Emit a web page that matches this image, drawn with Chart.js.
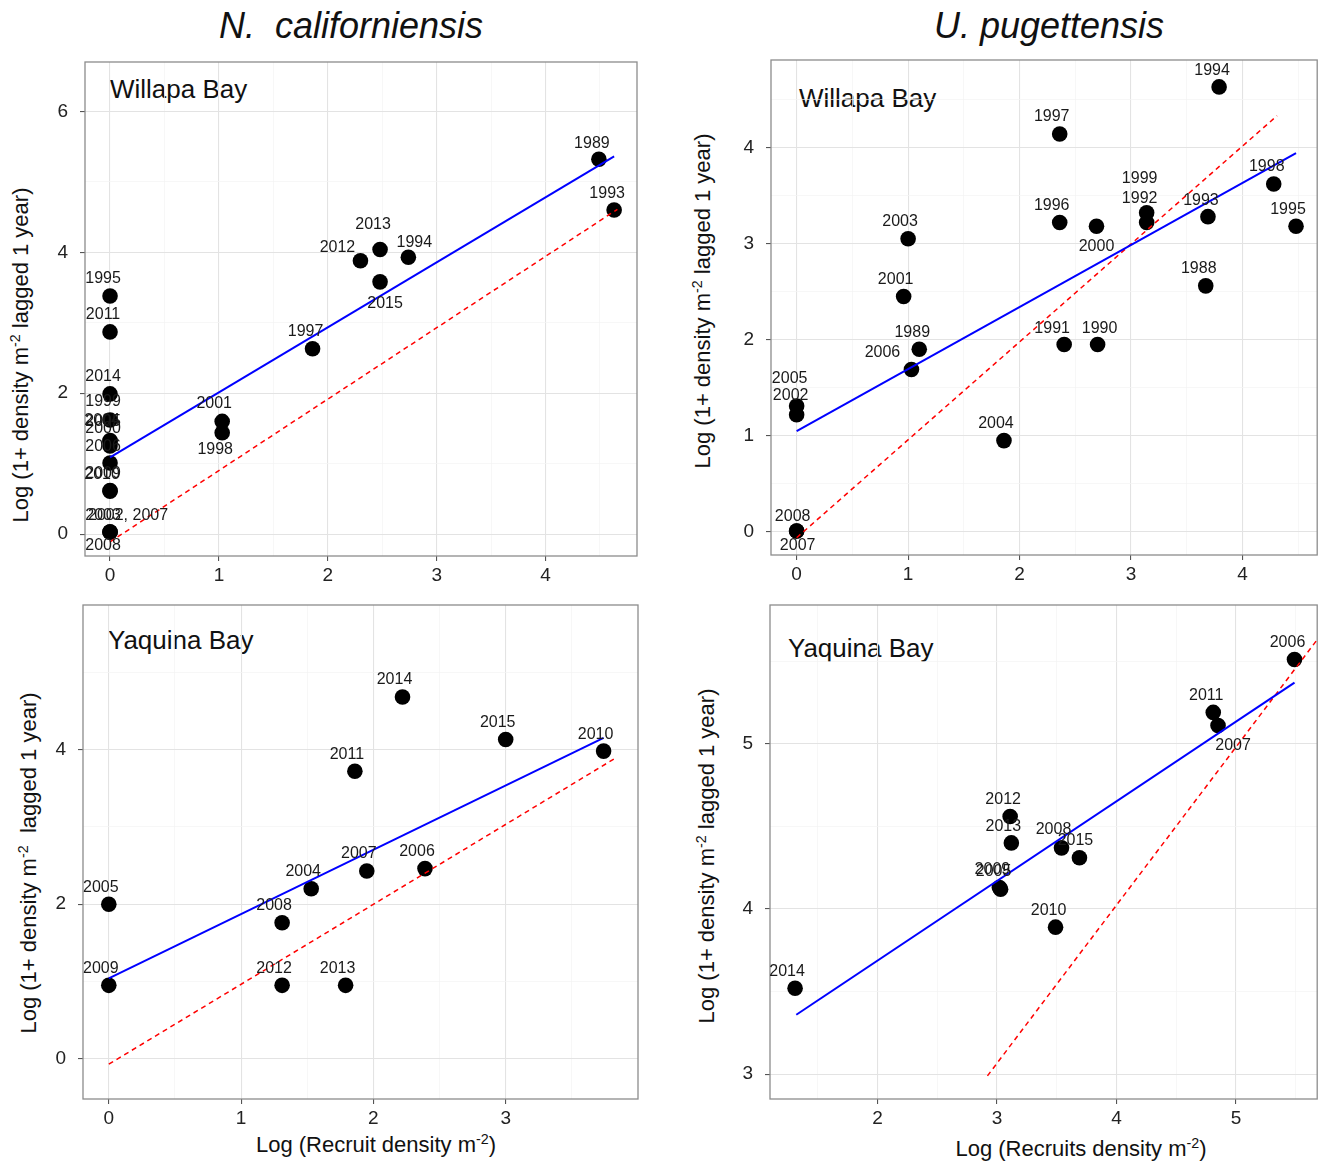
<!DOCTYPE html>
<html>
<head>
<meta charset="utf-8">
<script src="https://cdn.jsdelivr.net/npm/chart.js@4.4.1/dist/chart.umd.min.js"></script>
<style>
  body { margin: 0; background: #fff; font-family: "Liberation Sans", Arial, sans-serif; color: #111; }
  #fig { position: relative; width: 1325px; height: 1161px; overflow: hidden; }
  #fig canvas { position: absolute; }
  .txt { position: absolute; white-space: pre; line-height: 1; }
  .species { font-style: italic; font-size: 36px; transform: translateX(-50%); }
  .bay { font-size: 26px; }
  .ytitle { font-size: 22px; transform: translate(-50%, -50%) rotate(-90deg); }
  .xtitle { font-size: 22px; transform: translateX(-50%); }
  sup { font-size: 0.65em; position: relative; top: -0.55em; vertical-align: baseline; }
</style>
</head>
<body>
<div id="fig">
  <div class="txt species" style="left:351px; top:8px;">N.  californiensis</div>
  <div class="txt species" style="left:1049px; top:8px;">U. pugettensis</div>

  <div class="txt bay" style="left:110px; top:76px;">Willapa Bay</div>
  <div class="txt bay" style="left:799px; top:85px;">Willapa Bay</div>
  <div class="txt bay" style="left:108px; top:627px;">Yaquina Bay</div>
  <div class="txt bay" style="left:788px; top:635px;">Yaquina Bay</div>

  <div class="txt ytitle" style="left:21px; top:355px;">Log (1+ density m<sup>-2</sup> lagged 1 year)</div>
  <div class="txt ytitle" style="left:703px; top:301px;">Log (1+ density m<sup>-2</sup> lagged 1 year)</div>
  <div class="txt ytitle" style="left:29px; top:863px;">Log (1+ density m<sup>-2</sup>  lagged 1 year)</div>
  <div class="txt ytitle" style="left:707px; top:856px;">Log (1+ density m<sup>-2</sup> lagged 1 year)</div>

  <div class="txt xtitle" style="left:376px; top:1134px;">Log (Recruit density m<sup>-2</sup>)</div>
  <div class="txt xtitle" style="left:1081px; top:1138px;">Log (Recruits density m<sup>-2</sup>)</div>
</div>

<script>
// N. californiensis, Willapa Bay
const ncWbYears = ['1989', '1993', '2013', '2012', '1994', '2015', '1997', '2001', '1998',
  '1995', '2011', '2014', '1999', '2005', '2004', '2000', '2006', '2009', '2010',
  '2002, 2007', '2003', '2008'];
const ncWbX = [4.49, 4.63, 2.48, 2.30, 2.74, 2.48, 1.86, 1.03, 1.03,
  0, 0, 0, 0, 0, 0, 0, 0, 0, 0, 0, 0, 0];
const ncWbY = [5.32, 4.60, 4.04, 3.88, 3.93, 3.58, 2.63, 1.60, 1.44,
  3.38, 2.87, 1.99, 1.62, 1.33, 1.31, 1.25, 1.01, 0.62, 0.61, 0.03, 0.03, 0.03];
const ncWbFit = [[0, 1.09], [4.63, 5.36]];
const ncWbOneToOne = [[0, -0.11], [4.66, 4.61]];
const ncWbXTicks = [0, 1, 2, 3, 4];
const ncWbXMinor = [0.5, 1.5, 2.5, 3.5, 4.5];
const ncWbYTicks = [0, 2, 4, 6];
const ncWbYMinor = [1, 3, 5];

// U. pugettensis, Willapa Bay
const upWbYears = ['1994', '1997', '1998', '1999', '1992', '1993', '1995', '1996', '2000',
  '2003', '2001', '1988', '1989', '2006', '1991', '1990', '2004', '2005', '2002', '2008', '2007'];
const upWbX = [3.79, 2.36, 4.28, 3.14, 3.14, 3.69, 4.48, 2.36, 2.69,
  1.00, 0.96, 3.67, 1.10, 1.03, 2.40, 2.70, 1.86, 0, 0, 0, 0];
const upWbY = [4.63, 4.14, 3.62, 3.32, 3.22, 3.28, 3.18, 3.22, 3.18,
  3.05, 2.45, 2.56, 1.90, 1.69, 1.95, 1.95, 0.95, 1.31, 1.22, 0.01, 0.01];
const upWbFit = [[0, 1.05], [4.48, 3.94]];
const upWbOneToOne = [[0, -0.06], [4.31, 4.33]];
const upWbXTicks = [0, 1, 2, 3, 4];
const upWbXMinor = [0.5, 1.5, 2.5, 3.5, 4.5];
const upWbYTicks = [0, 1, 2, 3, 4];
const upWbYMinor = [0.5, 1.5, 2.5, 3.5, 4.5];

// N. californiensis, Yaquina Bay
const ncYbYears = ['2014', '2015', '2010', '2011', '2007', '2006', '2004', '2008',
  '2005', '2009', '2012', '2013'];
const ncYbX = [2.22, 3.00, 3.74, 1.86, 1.95, 2.39, 1.53, 1.31, 0, 0, 1.31, 1.79];
const ncYbY = [4.68, 4.13, 3.98, 3.72, 2.43, 2.46, 2.20, 1.76, 2.00, 0.95, 0.95, 0.95];
const ncYbFit = [[0, 1.04], [3.74, 4.15]];
const ncYbOneToOne = [[0, -0.07], [3.82, 3.88]];
const ncYbXTicks = [0, 1, 2, 3];
const ncYbXMinor = [0.5, 1.5, 2.5, 3.5];
const ncYbYTicks = [0, 2, 4];
const ncYbYMinor = [1, 3, 5];

// U. pugettensis, Yaquina Bay
const upYbYears = ['2006', '2011', '2007', '2012', '2013', '2008', '2015', '2009', '2005', '2010', '2014'];
const upYbX = [5.49, 4.81, 4.85, 3.11, 3.12, 3.54, 3.69, 3.02, 3.03, 3.49, 1.31];
const upYbY = [5.51, 5.19, 5.11, 4.56, 4.40, 4.37, 4.31, 4.13, 4.12, 3.89, 3.52];
const upYbFit = [[1.32, 3.36], [5.49, 5.37]];
const upYbOneToOne = [[2.92, 2.99], [5.69, 5.64]];
const upYbXTicks = [2, 3, 4, 5];
const upYbXMinor = [1.5, 2.5, 3.5, 4.5, 5.5];
const upYbYTicks = [3, 4, 5];
const upYbYMinor = [3.5, 4.5, 5.5];

// label offsets from each point centre, in pixels
const ncWbNudge = [[-7, -16], [-7, -16], [-7, -25], [-23, -13], [6, -15], [5, 22], [-7, -17], [-8, -18], [-7, 17],
  [-7, -17], [-7, -17], [-7, -17], [-7, -18], [-7, -19], [-8, -21], [-7, -17], [-7, -16], [-7, -17], [-8, -17],
  [18, -16], [-7, -16], [-7, 14]];
const upWbNudge = [[-7, -16], [-8, -17], [-7, -17], [-7, -34], [-7, -24], [-7, -16], [-8, -17], [-8, -17], [0, 20],
  [-8, -17], [-8, -17], [-7, -17], [-7, -17], [-29, -17], [-12, -16], [2, -16], [-8, -17], [-7, -27], [-6, -19],
  [-4, -14], [1, 15]];
const ncYbNudge = ncYbYears.map(() => [-8, -17]);
const upYbNudge = [[-7, -17], [-7, -17], [15, 20], [-7, -17], [-8, -16], [-8, -18], [-4, -17], [-7, -18], [-7, -18],
  [-7, -17], [-8, -17]];

const FONT = '"Liberation Sans", Arial, sans-serif';

const panels = [
  { box: { left: 0, top: 30, w: 652, h: 570 }, area: { left: 85, top: 62, right: 637, bottom: 556 },
    xRange: [-0.23, 4.84], yRange: [-0.31, 6.70],
    years: ncWbYears, x: ncWbX, y: ncWbY, fit: ncWbFit, ref: ncWbOneToOne, nudge: ncWbNudge,
    xTicks: ncWbXTicks, xMinor: ncWbXMinor, yTicks: ncWbYTicks, yMinor: ncWbYMinor },
  { box: { left: 680, top: 28, w: 645, h: 572 }, area: { left: 771, top: 60, right: 1322, bottom: 555 },
    xRange: [-0.23, 4.67], yRange: [-0.24, 4.91],
    years: upWbYears, x: upWbX, y: upWbY, fit: upWbFit, ref: upWbOneToOne, nudge: upWbNudge,
    xTicks: upWbXTicks, xMinor: upWbXMinor, yTicks: upWbYTicks, yMinor: upWbYMinor },
  { box: { left: 0, top: 573, w: 652, h: 588 }, area: { left: 83, top: 605, right: 638, bottom: 1099 },
    xRange: [-0.195, 4.0], yRange: [-0.52, 5.87],
    years: ncYbYears, x: ncYbX, y: ncYbY, fit: ncYbFit, ref: ncYbOneToOne, nudge: ncYbNudge,
    xTicks: ncYbXTicks, xMinor: ncYbXMinor, yTicks: ncYbYTicks, yMinor: ncYbYMinor },
  { box: { left: 680, top: 573, w: 645, h: 588 }, area: { left: 770, top: 605, right: 1322, bottom: 1099 },
    xRange: [1.10, 5.68], yRange: [2.85, 5.84],
    years: upYbYears, x: upYbX, y: upYbY, fit: upYbFit, ref: upYbOneToOne, nudge: upYbNudge,
    xTicks: upYbXTicks, xMinor: upYbXMinor, yTicks: upYbYTicks, yMinor: upYbYMinor }
];

// grey box around the plotting area
const panelFrame = {
  id: 'panelFrame',
  beforeDatasetsDraw(chart) {
    const { ctx, chartArea: a } = chart;
    ctx.save();
    ctx.strokeStyle = '#8c8c8c';
    ctx.lineWidth = 1.3;
    ctx.strokeRect(a.left, a.top, a.right - a.left, a.bottom - a.top);
    ctx.restore();
  }
};

// year text next to each point
const yearLabels = {
  id: 'yearLabels',
  afterDatasetsDraw(chart) {
    const ctx = chart.ctx;
    chart.data.datasets.forEach((ds, di) => {
      if (!ds.yearLabels) return;
      const meta = chart.getDatasetMeta(di);
      ctx.save();
      ctx.font = '16px ' + FONT;
      ctx.fillStyle = '#1a1a1a';
      ctx.textAlign = 'center';
      ctx.textBaseline = 'middle';
      meta.data.forEach((pt, i) => {
        const [dx, dy] = ds.nudge[i];
        ctx.fillText(ds.yearLabels[i], pt.x + dx, pt.y + dy);
      });
      ctx.restore();
    });
  }
};

function axis(range, major, minor, dir, size) {
  const isMajor = c => c.tick && major.includes(c.tick.value);
  return {
    type: 'linear',
    min: range[0],
    max: range[1],
    afterBuildTicks: s => {
      s.ticks = major.concat(minor).sort((a, b) => a - b).map(v => ({ value: v }));
    },
    afterFit: s => {
      if (dir === 'x') s.height = size; else s.width = size;
    },
    border: { display: false },
    grid: {
      color: c => isMajor(c) ? '#e3e3e3' : '#f3f3f3',
      lineWidth: c => isMajor(c) ? 1.1 : 0.7,
      tickColor: c => isMajor(c) ? '#555' : 'rgba(0,0,0,0)',
      tickLength: 5
    },
    ticks: {
      autoSkip: false,
      maxRotation: 0,
      padding: dir === 'x' ? 3 : 12,
      color: '#222',
      font: { family: FONT, size: 19 },
      callback: v => major.includes(v) ? String(v) : ''
    }
  };
}

function makePanel(p) {
  const canvas = document.createElement('canvas');
  canvas.width = p.box.w;
  canvas.height = p.box.h;
  canvas.style.left = p.box.left + 'px';
  canvas.style.top = p.box.top + 'px';
  document.getElementById('fig').appendChild(canvas);

  const padTop = p.area.top - p.box.top;
  const padRight = p.box.left + p.box.w - p.area.right;
  const yWidth = p.area.left - p.box.left;
  const xHeight = p.box.top + p.box.h - p.area.bottom;

  const toXY = pts => pts.map(([x, y]) => ({ x, y }));

  new Chart(canvas, {
    type: 'scatter',
    data: {
      datasets: [
        { type: 'line', data: toXY(p.fit), borderColor: '#0000ff', borderWidth: 2,
          pointRadius: 0, fill: false },
        { type: 'line', data: toXY(p.ref), borderColor: '#ff0000', borderWidth: 1.5,
          borderDash: [5, 4], pointRadius: 0, fill: false },
        { data: p.x.map((v, i) => ({ x: v, y: p.y[i] })), pointRadius: 7.8,
          pointBackgroundColor: '#000', pointBorderWidth: 0,
          yearLabels: p.years, nudge: p.nudge }
      ]
    },
    options: {
      responsive: false,
      animation: false,
      events: [],
      layout: { padding: { top: padTop, right: padRight, left: 0, bottom: 0 } },
      plugins: { legend: { display: false }, tooltip: { enabled: false } },
      scales: {
        x: axis(p.xRange, p.xTicks, p.xMinor, 'x', xHeight),
        y: axis(p.yRange, p.yTicks, p.yMinor, 'y', yWidth)
      }
    },
    plugins: [panelFrame, yearLabels]
  });
}

panels.forEach(makePanel);
</script>
</body>
</html>
